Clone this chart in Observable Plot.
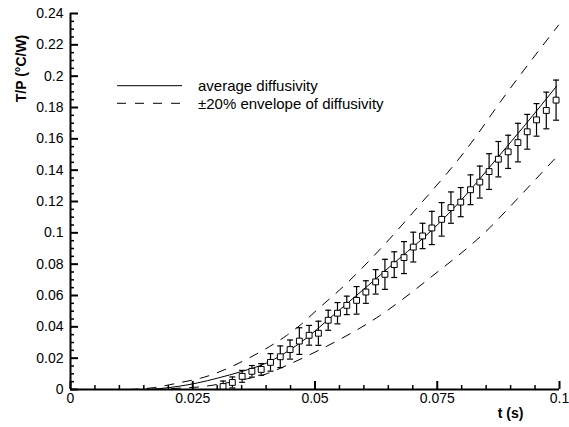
<!DOCTYPE html>
<html><head><meta charset="utf-8">
<script src="https://cdn.jsdelivr.net/npm/d3@7"></script>
<script src="https://cdn.jsdelivr.net/npm/@observablehq/plot@0.6"></script>
<style>body{margin:0;background:#fff;}</style>
</head><body><div id="chart"></div>
<script>
// Measured samples (time in s, T/P in °C/W, ± error)
const sampleT = [0.0312, 0.0331, 0.0351, 0.0371, 0.0390, 0.0409, 0.0429, 0.0449, 0.0468, 0.0488, 0.0507, 0.0527, 0.0546, 0.0565, 0.0585, 0.0604, 0.0624, 0.0643, 0.0662, 0.0682, 0.0701, 0.0720, 0.0739, 0.0759, 0.0778, 0.0798, 0.0818, 0.0837, 0.0856, 0.0875, 0.0895, 0.0915, 0.0934, 0.0953, 0.0973, 0.0993];
const sampleV = [0.0019, 0.0045, 0.0084, 0.0116, 0.0128, 0.0173, 0.0209, 0.0255, 0.0309, 0.0346, 0.0359, 0.0442, 0.0487, 0.0537, 0.0569, 0.0622, 0.0687, 0.0735, 0.0797, 0.0842, 0.0909, 0.0980, 0.1031, 0.1086, 0.1161, 0.1196, 0.1275, 0.1324, 0.1391, 0.1470, 0.1517, 0.1576, 0.1645, 0.1721, 0.1781, 0.1847];
const sampleErr = [0.0035, 0.0035, 0.0038, 0.0037, 0.0037, 0.0056, 0.0069, 0.0061, 0.0085, 0.0063, 0.0077, 0.0064, 0.0068, 0.0059, 0.0088, 0.0072, 0.0078, 0.0096, 0.0082, 0.0102, 0.0095, 0.0081, 0.0106, 0.0107, 0.0100, 0.0093, 0.0095, 0.0102, 0.0114, 0.0113, 0.0106, 0.0123, 0.0111, 0.0104, 0.0117, 0.0128];

// Average diffusivity curve
const avgT = [0.0140, 0.0180, 0.0220, 0.0260, 0.0300, 0.0350, 0.0400, 0.0469, 0.0537, 0.0605, 0.0672, 0.0740, 0.0808, 0.0872, 0.0930, 0.0994];
const avgV = [0.0000, 0.0005, 0.0020, 0.0042, 0.0072, 0.0115, 0.0168, 0.0296, 0.0473, 0.0654, 0.0835, 0.1020, 0.1240, 0.1475, 0.1690, 0.1936];
// +20% diffusivity envelope
const upT = [0.0120, 0.0170, 0.0225, 0.0266, 0.0371, 0.0442, 0.0469, 0.0503, 0.0564, 0.0618, 0.0713, 0.0808, 0.0835, 0.0855, 0.0998];
const upV = [0.0000, 0.0012, 0.0045, 0.0072, 0.0211, 0.0345, 0.0409, 0.0505, 0.0675, 0.0845, 0.1175, 0.1527, 0.1640, 0.1730, 0.2326];
// -20% diffusivity envelope
const lowT = [0.0170, 0.0225, 0.0266, 0.0300, 0.0350, 0.0400, 0.0450, 0.0510, 0.0632, 0.0733, 0.0869, 0.0890, 0.0997];
const lowV = [0.0000, 0.0009, 0.0017, 0.0032, 0.0061, 0.0099, 0.0165, 0.0254, 0.0470, 0.0707, 0.1069, 0.1138, 0.1495];

const xMajor = [0, 0.025, 0.05, 0.075, 0.1];
const xLabels = ["0", "0.025", "0.05", "0.075", "0.1"];
const xMinor = [0.005, 0.01, 0.015, 0.02, 0.03, 0.035, 0.04, 0.045, 0.055, 0.06, 0.065, 0.07, 0.08, 0.085, 0.09, 0.095];
const yMajor = [0, 0.02, 0.04, 0.06, 0.08, 0.1, 0.12, 0.14, 0.16, 0.18, 0.2, 0.22, 0.24];
const yLabels = ["0", "0.02", "0.04", "0.06", "0.08", "0.1", "0.12", "0.14", "0.16", "0.18", "0.2", "0.22", "0.24"];
const yMinor = [0.005, 0.01, 0.015, 0.025, 0.03, 0.035, 0.045, 0.05, 0.055, 0.065, 0.07, 0.075, 0.085, 0.09, 0.095, 0.105, 0.11, 0.115, 0.125, 0.13, 0.135, 0.145, 0.15, 0.155, 0.165, 0.17, 0.175, 0.185, 0.19, 0.195, 0.205, 0.21, 0.215, 0.225, 0.23, 0.235];

const legendLabels = ["average diffusivity", "\u00B120% envelope of diffusivity"];
const legendDash = [null, "9,9"];

const samples = sampleT.map((t, i) => ({t, v: sampleV[i], lo: sampleV[i] - sampleErr[i], hi: sampleV[i] + sampleErr[i]}));
const avg = avgT.map((t, i) => ({t, v: avgV[i]}));
const up = upT.map((t, i) => ({t, v: upV[i]}));
const low = lowT.map((t, i) => ({t, v: lowV[i]}));

const capSymbol = {draw(ctx, size) { const r = Math.sqrt(size / Math.PI); ctx.moveTo(-r, 0); ctx.lineTo(r, 0); }};

function legendMark(index, scales, values, dims) {
  const g = d3.create("svg:g");
  legendLabels.forEach((label, i) => {
    const y = dims.marginTop + 72.7 + i * 17.6;
    const ln = g.append("line")
      .attr("x1", dims.marginLeft + 47).attr("x2", dims.marginLeft + 112)
      .attr("y1", y).attr("y2", y)
      .attr("stroke", "black").attr("stroke-width", 1);
    if (legendDash[i]) ln.attr("stroke-dasharray", legendDash[i]);
    g.append("text")
      .attr("x", dims.marginLeft + 128).attr("y", y).attr("dy", "0.35em")
      .attr("text-anchor", "start")
      .attr("font-size", 15).attr("font-family", "Liberation Sans, Arial, sans-serif")
      .attr("fill", "black").text(label);
  });
  return g.node();
}

const chart = Plot.plot({
  width: 569, height: 427,
  marginLeft: 70, marginRight: 10, marginTop: 13, marginBottom: 38,
  style: {fontFamily: "Liberation Sans, Arial, sans-serif", fontSize: "14px", background: "white", color: "black"},
  x: {domain: [0, 0.1], label: null},
  y: {domain: [0, 0.24], label: null},
  marks: [
    Plot.line(up, {x: "t", y: "v", stroke: "black", strokeWidth: 1, strokeDasharray: "9,9", curve: "monotone-x"}),
    Plot.line(low, {x: "t", y: "v", stroke: "black", strokeWidth: 1, strokeDasharray: "9,9", curve: "monotone-x"}),
    Plot.line(avg, {x: "t", y: "v", stroke: "black", strokeWidth: 1, curve: "monotone-x"}),
    Plot.ruleX(samples, {x: "t", y1: "lo", y2: "hi", stroke: "black", strokeWidth: 1.2, clip: true}),
    Plot.dot(samples, {x: "t", y: "hi", symbol: capSymbol, r: 3, stroke: "black", strokeWidth: 1.2, fill: "none"}),
    Plot.dot(samples.filter(d => d.lo > 0), {x: "t", y: "lo", symbol: capSymbol, r: 3, stroke: "black", strokeWidth: 1.2, fill: "none"}),
    Plot.dot(samples, {x: "t", y: "v", symbol: "square", r: 3.3, stroke: "black", strokeWidth: 1, fill: "white"}),
    Plot.ruleY([0], {stroke: "black", strokeWidth: 2}),
    Plot.ruleX([0], {stroke: "black", strokeWidth: 2}),
    Plot.axisX(xMajor, {tickSize: 8, dy: -8, tickFormat: () => "", strokeWidth: 2}),
    Plot.axisX(xMinor, {tickSize: 4, dy: -4, tickFormat: () => "", strokeWidth: 1.5}),
    Plot.axisX(xMajor, {tickSize: 0, tickPadding: 4, fontSize: 14, tickFormat: d => xLabels[xMajor.indexOf(d)]}),
    Plot.axisY(yMajor, {tickSize: 8, dx: 8, tickFormat: () => "", strokeWidth: 2}),
    Plot.axisY(yMinor, {tickSize: 4, dx: 4, tickFormat: () => "", strokeWidth: 1.5}),
    Plot.axisY(yMajor, {tickSize: 0, tickPadding: 7, fontSize: 14, tickFormat: d => yLabels[yMajor.indexOf(d)]}),
    Plot.text(["T/P (\u00B0C/W)"], {text: d => d, frameAnchor: "top-left", dx: -49, dy: 55, rotate: -90, fontWeight: "bold", fontSize: 14, textAnchor: "middle", lineAnchor: "middle"}),
    Plot.text(["t (s)"], {text: d => d, frameAnchor: "bottom-right", dx: -49, dy: 24, fontWeight: "bold", fontSize: 14, textAnchor: "middle", lineAnchor: "middle"}),
    legendMark
  ]
});
document.getElementById("chart").appendChild(chart);
</script>
</body></html>
